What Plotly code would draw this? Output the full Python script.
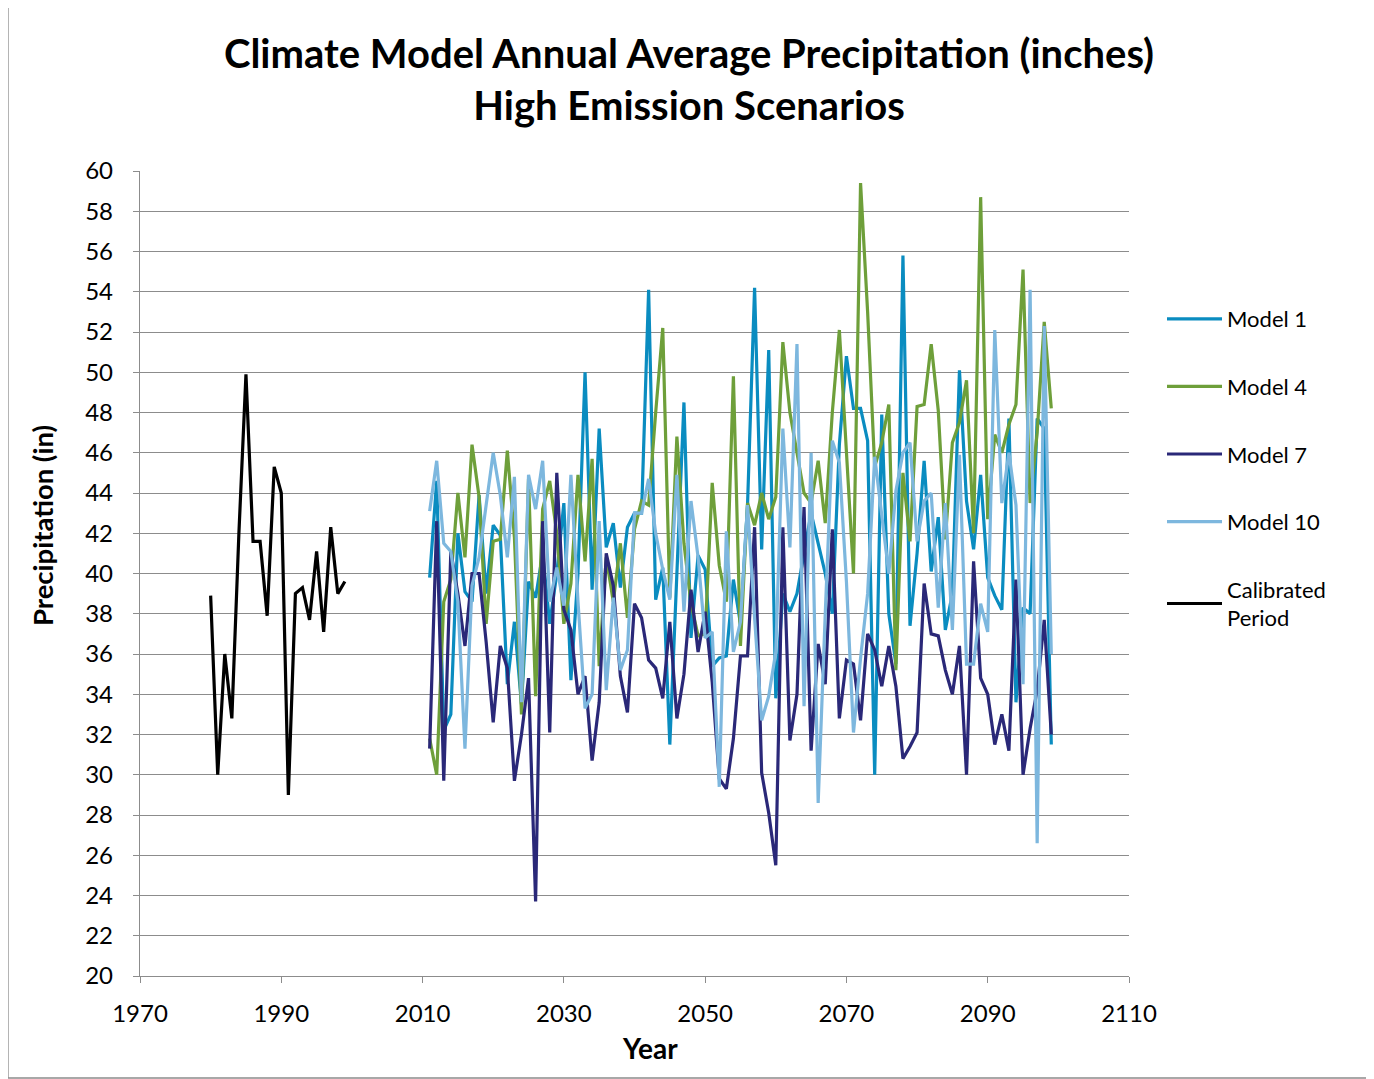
import plotly.graph_objects as go

# ---------------- data ----------------
calib_years = list(range(1980, 2000))
calib_vals = [38.9, 30.0, 36.0, 32.8, 42.0, 49.9, 41.6, 41.6, 37.9, 45.3,
              44.0, 29.0, 39.0, 39.3, 37.7, 41.1, 37.1, 42.3, 39.0, 39.6]

model_years = list(range(2011, 2100))

model1 = [39.8, 44.6, 32.2, 33.0, 42.0, 39.1, 38.6, 43.9, 39.0, 42.4,   # 2011-2020
          41.9, 34.5, 37.6, 33.5, 39.6, 38.8, 41.0, 37.5, 40.0, 43.5,   # 2021-2030
          34.7, 40.0, 50.0, 39.2, 47.2, 41.3, 42.5, 39.3, 42.3, 43.0,   # 2031-2040
          43.0, 54.1, 38.7, 40.3, 31.5, 40.5, 48.5, 36.8, 40.9, 40.2,   # 2041-2050
          35.4, 35.8, 35.9, 39.7, 37.5, 43.4, 54.2, 41.2, 51.1, 33.8,   # 2051-2060
          39.0, 38.1, 39.0, 41.0, 43.0, 41.5, 40.0, 38.0, 46.4, 50.8,   # 2061-2070
          48.2, 48.2, 46.6, 30.0, 47.9, 38.0, 35.5, 55.8, 37.4, 41.0,   # 2071-2080
          45.6, 40.1, 42.8, 37.2, 39.0, 50.1, 43.6, 41.2, 44.9, 39.8,   # 2081-2090
          38.9, 38.2, 47.7, 33.6, 38.3, 38.0, 47.7, 47.2, 31.5]         # 2091-2099

model4 = [31.8, 30.0, 38.6, 39.7, 44.0, 40.8, 46.4, 43.8, 37.5, 41.6,
          41.7, 46.1, 41.8, 33.0, 44.7, 33.9, 43.2, 44.6, 42.0, 37.5,
          39.5, 44.9, 40.6, 45.7, 35.4, 40.8, 38.6, 41.5, 37.8, 42.2,
          43.6, 43.4, 48.0, 52.2, 38.8, 46.8, 41.5, 38.5, 36.9, 37.0,
          44.5, 40.4, 38.6, 49.8, 36.4, 43.5, 42.4, 44.0, 42.7, 43.8,
          51.5, 48.0, 46.0, 44.0, 43.5, 45.6, 42.5, 48.0, 52.1, 46.0,
          40.0, 59.4, 53.0, 45.3, 46.5, 48.4, 35.2, 45.0, 41.6, 48.3,
          48.4, 51.4, 48.1, 41.7, 46.5, 47.5, 49.6, 42.0, 58.7, 42.7,
          46.9, 46.0, 47.4, 48.4, 55.1, 43.5, 47.0, 52.5, 48.2]

model7 = [31.3, 42.6, 29.7, 41.1, 39.0, 36.4, 40.0, 40.0, 36.6, 32.6,
          36.4, 35.3, 29.7, 32.0, 34.8, 23.7, 42.6, 32.1, 45.0, 38.2,
          37.2, 34.0, 34.9, 30.7, 33.6, 41.0, 39.4, 34.9, 33.1, 38.5,
          37.8, 35.7, 35.3, 33.8, 37.6, 32.8, 35.0, 39.2, 36.1, 38.1,
          34.6, 29.8, 29.3, 31.8, 35.9, 35.9, 42.3, 30.1, 28.1, 25.5,
          42.3, 31.7, 34.0, 43.3, 31.2, 36.5, 34.5, 42.2, 32.8, 35.7,
          35.5, 32.7, 37.0, 36.2, 34.4, 36.4, 34.4, 30.8, 31.4, 32.1,
          39.5, 37.0, 36.9, 35.2, 34.0, 36.4, 30.0, 40.6, 34.8, 34.0,
          31.5, 33.0, 31.2, 39.7, 30.0, 32.3, 34.2, 37.7, 32.0]

model10 = [43.1, 45.6, 41.5, 41.1, 38.6, 31.3, 39.4, 40.8, 43.4, 46.0,
           43.9, 40.8, 44.8, 33.6, 44.9, 43.2, 45.6, 38.6, 40.3, 38.4,
           44.9, 38.6, 33.3, 34.0, 42.6, 34.2, 38.8, 35.2, 36.2, 43.0,
           43.0, 44.7, 42.0, 40.2, 38.7, 44.9, 38.1, 43.6, 40.8, 36.8,
           37.1, 29.4, 42.1, 36.1, 37.6, 43.4, 37.8, 32.7, 33.9, 36.1,
           47.2, 41.3, 51.4, 33.4, 46.0, 28.6, 38.0, 46.6, 45.5, 39.6,
           32.1, 35.8, 39.0, 45.8, 42.9, 40.0, 44.1, 46.0, 46.5, 41.6,
           43.6, 44.0, 38.3, 43.5, 37.2, 45.9, 35.5, 35.5, 38.5, 37.1,
           52.1, 43.5, 46.0, 43.4, 34.5, 54.1, 26.6, 52.3, 36.0]

series = [
    ("Model 1", model1, "#0A8CC0"),
    ("Model 4", model4, "#6E9F3A"),
    ("Model 7", model7, "#2A2878"),
    ("Model 10", model10, "#7DB7DE"),
]

FONT = "Lato, 'Open Sans', sans-serif"

fig = go.Figure()
for name, vals, col in series:
    fig.add_trace(go.Scatter(x=model_years, y=vals, mode="lines", name=name,
                             legendgroup=name,
                             line=dict(color=col, width=3.2)))
fig.add_trace(go.Scatter(x=calib_years, y=calib_vals, mode="lines",
                         name="Calibrated<br>Period", legendgroup="calib",
                         line=dict(color="#000000", width=3.2)))

# page has an 8px body margin: compensate so plot area sits at x 140..1129, y 171..976
O = 8
PW, PH = 989, 805
L = 140 - O
T = 171 - O
R = 1374 - L - PW
B = 1079 - T - PH

def px(xp):   # page x -> paper x
    return (xp - 140) / PW

def py(yp):   # page y -> paper y
    return (976 - yp) / PH

fig.update_layout(
    width=1374, height=1079,
    margin=dict(l=L, r=R, t=T, b=B),
    paper_bgcolor="white", plot_bgcolor="white",
    font=dict(family=FONT, color="#000000"),
    title=dict(text="<b>Climate Model Annual Average Precipitation (inches)<br>High Emission Scenarios</b>",
               x=(689 - O) / 1374, xanchor="center", xref="container",
               y=1 - (68 - O) / 1079, yanchor="middle", yref="container",
               font=dict(size=40, family=FONT, color="#000000")),
    showlegend=True,
    legend=dict(x=px(1162), xanchor="left",
                y=py(298), yanchor="top",
                font=dict(size=22, family=FONT, color="#000000"),
                tracegroupgap=36, itemwidth=55,
                bgcolor="rgba(0,0,0,0)"),
)

fig.update_xaxes(range=[1970, 2110], tickmode="linear", tick0=1970, dtick=20,
                 showgrid=False, showline=True, linecolor="#8C8C8C", linewidth=1.3,
                 ticks="outside", ticklen=6, tickcolor="#8C8C8C", tickwidth=1.3,
                 ticklabelstandoff=10,
                 tickfont=dict(size=24, family=FONT, color="#000000"),
                 zeroline=False)
fig.update_yaxes(range=[20, 60], tickmode="linear", tick0=20, dtick=2,
                 showgrid=True, gridcolor="#8C8C8C", gridwidth=1.3,
                 showline=True, linecolor="#8C8C8C", linewidth=1.3,
                 ticks="outside", ticklen=6, tickcolor="#8C8C8C", tickwidth=1.3,
                 ticklabelstandoff=15,
                 tickfont=dict(size=24, family=FONT, color="#000000"),
                 zeroline=False)

# axis titles (placed as in the reference)
fig.add_annotation(text="<b>Year</b>", xref="paper", yref="paper",
                   x=px(650), y=py(1048), xanchor="center", yanchor="middle",
                   showarrow=False, font=dict(size=28, family=FONT, color="#000000"))
fig.add_annotation(text="<b>Precipitation (in)</b>", xref="paper", yref="paper",
                   x=px(42), y=py(526), xanchor="center", yanchor="middle",
                   textangle=-90, showarrow=False,
                   font=dict(size=27.5, family=FONT, color="#000000"))

# outer chart border
fig.add_shape(type="rect", xref="paper", yref="paper",
              x0=px(8), x1=px(1371),
              y0=py(1078), y1=py(6),
              line=dict(color="#8C8C8C", width=1.3), fillcolor="rgba(0,0,0,0)",
              layer="below")

fig.write_html("out.html")
